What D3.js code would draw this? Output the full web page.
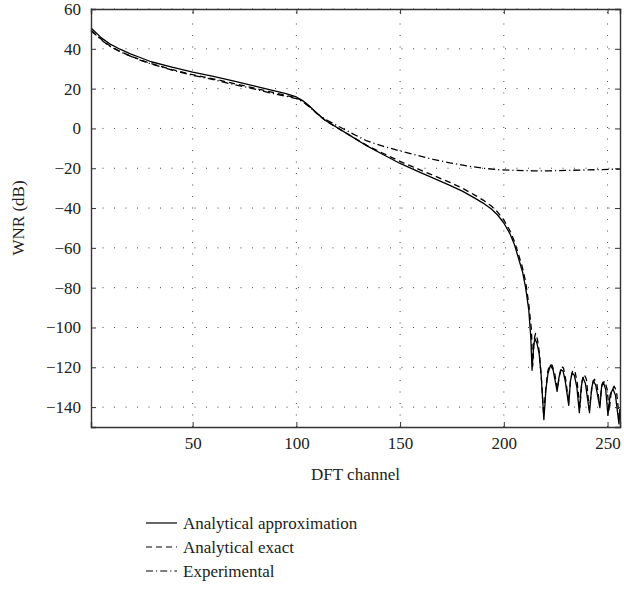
<!DOCTYPE html>
<html>
<head>
<meta charset="utf-8">
<script src="https://cdn.jsdelivr.net/npm/d3@7"></script>
<style>
  html, body { margin: 0; padding: 0; background: #fff; }
  svg { display: block; }
  text { font-family: "Liberation Serif", "DejaVu Serif", serif; fill: #222; }
</style>
</head>
<body>
<svg id="chart" width="624" height="592"></svg>
<script>
// WNR per DFT channel: analytical approximation, analytical exact and experimental
const approxChannels = [1, 3, 6, 10, 15, 20, 25, 30, 40, 50, 60, 70, 80, 90, 95, 100, 103, 106, 110, 114, 118, 125, 134, 142, 150, 158, 166, 174, 180, 186, 190, 194, 197, 200, 203, 205, 207, 209, 210.5, 212, 213, 213.6, 214.4, 215, 216, 217, 218, 219.3, 220.3, 221.3, 222.5, 223.8, 225.7, 226.6, 227.6, 228.6, 229.6, 231.3, 232.1, 232.9, 234, 235.2, 236.4, 237.3, 238.1, 239.3, 241.3, 242.3, 243.1, 244.3, 246.3, 247.1, 247.9, 249.1, 250.2, 251.2, 252.6, 253.8, 255.5, 256];
const approxValues = [50.5, 48.5, 45.5, 42.5, 39.8, 37.5, 35.5, 33.5, 30.8, 28.3, 26.2, 23.8, 21.3, 18.8, 17.5, 15.8, 14, 11.5, 7.5, 4, 1.5, -3, -8.8, -13.2, -17.6, -21.3, -25, -28.6, -31.5, -35, -37.5, -40.5, -43.5, -47.5, -53, -58, -65, -72, -80, -91, -105, -121.5, -109, -105.6, -108, -113, -124, -146.3, -131, -123, -119, -121.5, -132.1, -125, -121.2, -122, -127, -139.1, -127, -122.9, -124, -130, -142.8, -130, -125.2, -128, -142.8, -131, -126.6, -129, -140.3, -130, -127.4, -131, -144.2, -134, -130.8, -134, -148.4, -141];

const exactChannels = [1, 3, 6, 10, 15, 20, 25, 30, 40, 50, 60, 70, 80, 90, 95, 100, 103, 106, 110, 114, 118, 125, 134, 142, 150, 158, 166, 174, 180, 186, 190, 194, 197, 200, 203, 205, 207, 209, 210.5, 212, 213.3, 213.9, 214.6, 215.3, 216.2, 217.2, 218.2, 219.2, 220.2, 221.2, 222.2, 223.3, 224.5, 225.8, 226.8, 227.8, 228.8, 229.8, 231.2, 232.2, 233.2, 234.3, 235.4, 236.7, 237.7, 238.7, 239.8, 241.2, 242.7, 243.7, 244.8, 246.2, 247.3, 248.7, 249.8, 250.8, 251.8, 253.2, 254.3, 255.7, 256];
const exactValues = [49.5, 47.5, 44.8, 41.5, 38.7, 36.4, 34.4, 32.6, 29.6, 27, 24.9, 22.5, 20.2, 17.8, 16.6, 15.3, 13.8, 11.3, 7.4, 3.9, 1.4, -3, -8.5, -12.6, -16.6, -20.1, -23.6, -27.1, -30, -33.5, -36, -39, -42, -46, -51.5, -56.5, -63, -70, -77, -88, -101, -119.5, -106, -103, -106, -113, -127, -144, -131, -122, -118.5, -119, -123, -131, -124, -119.5, -120.5, -126, -137, -126, -121.5, -122, -128, -140, -127, -123.5, -126, -141, -128.5, -126, -128, -139, -128.5, -127, -131, -142, -132, -129.5, -132, -146, -141];

const experimentalChannels = [1, 3, 6, 10, 15, 20, 25, 30, 40, 50, 60, 70, 80, 90, 95, 100, 103, 106, 110, 114, 118, 125, 134, 142, 150, 158, 166, 174, 182, 190, 198, 206, 214, 222, 230, 238, 246, 256];
const experimentalValues = [49, 47.3, 44.5, 41.3, 38.5, 36.3, 34.2, 32.4, 29.3, 26.7, 24.5, 22, 19.8, 17.2, 16.2, 15, 13.5, 11, 7.5, 4.5, 2.3, -1.5, -6.3, -9, -11.3, -13.5, -15.5, -17.3, -18.8, -20, -20.8, -21.1, -21.3, -21.3, -21.1, -20.9, -20.7, -20.4];

const xTicks = [50, 100, 150, 200, 250];
const yTicks = [60, 40, 20, 0, -20, -40, -60, -80, -100, -120, -140];
const seriesNames = ["Analytical approximation", "Analytical exact", "Experimental"];
const seriesDash = ["none", "6,4", "7,3,1.2,3"];

const svg = d3.select("#chart");
const margin = { left: 91, right: 4, top: 9, bottom: 165 };
const W = 624, H = 592;
const iw = W - margin.left - margin.right;
const ih = H - margin.top - margin.bottom;

const x = d3.scaleLinear().domain([1, 256]).range([margin.left, margin.left + iw]);
const y = d3.scaleLinear().domain([-150, 60]).range([margin.top + ih, margin.top]);

const fmt = v => (v < 0 ? "\u2212" + Math.abs(v) : String(v));

// dotted grid
const grid = svg.append("g").attr("stroke", "#444").attr("stroke-width", 1)
  .attr("stroke-dasharray", "1,10.5");
grid.selectAll("line.gx").data(xTicks).join("line")
  .attr("x1", d => x(d)).attr("x2", d => x(d))
  .attr("y1", y(-150)).attr("y2", y(60));
grid.selectAll("line.gy").data(yTicks).join("line")
  .attr("x1", x(1)).attr("x2", x(256))
  .attr("y1", d => y(d)).attr("y2", d => y(d));

// curves
const series = [
  approxChannels.map((c, i) => [c, approxValues[i]]),
  exactChannels.map((c, i) => [c, exactValues[i]]),
  experimentalChannels.map((c, i) => [c, experimentalValues[i]])
];
const line = d3.line().x(d => x(d[0])).y(d => y(d[1]));
const curveG = svg.append("g");
series.forEach((s, i) => {
  curveG.append("path").datum(s)
    .attr("d", line)
    .attr("fill", "none")
    .attr("stroke", "#000")
    .attr("stroke-width", 1.3)
    .attr("stroke-linejoin", "round")
    .attr("stroke-dasharray", seriesDash[i]);
});

// axes with inward ticks on all four sides
const tickLen = 5;
const axB = d3.axisBottom(x).tickValues(xTicks).tickSize(-tickLen).tickPadding(10).tickFormat(fmt);
const axT = d3.axisTop(x).tickValues(xTicks).tickSize(-tickLen).tickFormat("");
const axL = d3.axisLeft(y).tickValues(yTicks).tickSize(-tickLen).tickPadding(10).tickFormat(fmt);
const axR = d3.axisRight(y).tickValues(yTicks).tickSize(-tickLen).tickFormat("");

function style(g) {
  g.select(".domain").attr("stroke", "#333").attr("stroke-width", 1.4);
  g.selectAll(".tick line").attr("stroke", "#333").attr("stroke-width", 1);
  g.selectAll(".tick text").attr("font-size", 17).attr("fill", "#222")
    .attr("font-family", "Liberation Serif, DejaVu Serif, serif");
}
svg.append("g").attr("transform", `translate(0,${y(-150)})`).call(axB).call(style);
svg.append("g").attr("transform", `translate(0,${y(60)})`).call(axT).call(style);
svg.append("g").attr("transform", `translate(${x(1)},0)`).call(axL).call(style);
svg.append("g").attr("transform", `translate(${x(256)},0)`).call(axR).call(style);

// axis titles
svg.append("text")
  .attr("x", (x(1) + x(256)) / 2).attr("y", 480)
  .attr("text-anchor", "middle").attr("font-size", 17)
  .text("DFT channel");
svg.append("text")
  .attr("transform", `translate(24,${(y(-150) + y(60)) / 2}) rotate(-90)`)
  .attr("text-anchor", "middle").attr("font-size", 17)
  .text("WNR (dB)");

// legend
const leg = svg.append("g");
seriesNames.forEach((name, i) => {
  const ly = 523 + i * 24;
  leg.append("line")
    .attr("x1", 146).attr("x2", 177).attr("y1", ly).attr("y2", ly)
    .attr("stroke", "#000").attr("stroke-width", 1.2)
    .attr("stroke-dasharray", seriesDash[i]);
  leg.append("text")
    .attr("x", 183).attr("y", ly + 5.5)
    .attr("font-size", 17)
    .text(name);
});
</script>
</body>
</html>
